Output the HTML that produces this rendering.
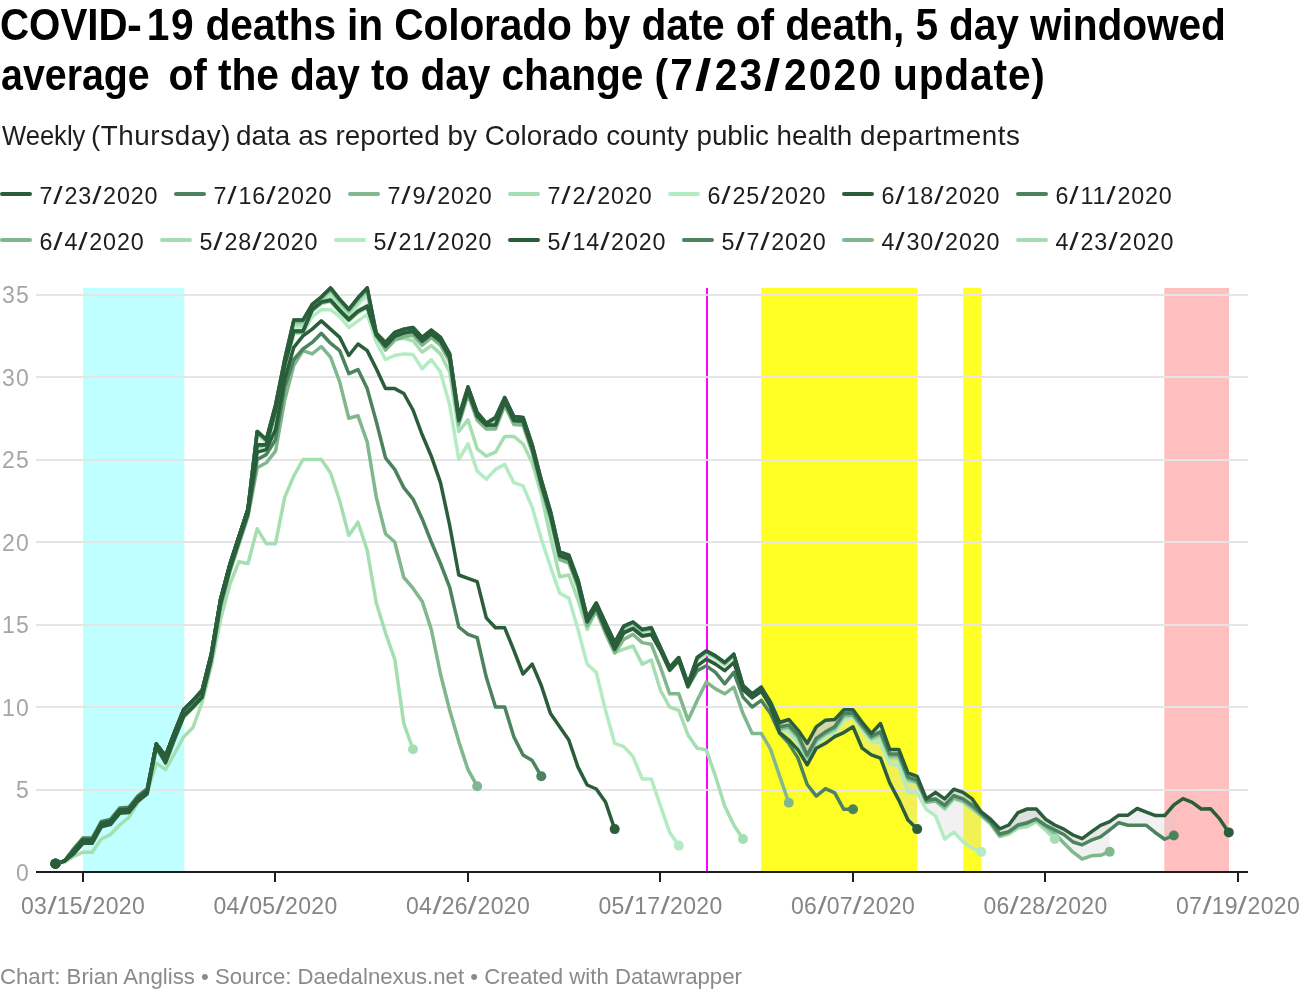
<!DOCTYPE html>
<html><head><meta charset="utf-8"><title>COVID-19 deaths in Colorado</title>
<style>
html,body{margin:0;padding:0;background:#fff;}
body{width:1300px;height:1000px;position:relative;overflow:hidden;font-family:"Liberation Sans",sans-serif;}
.t{position:absolute;white-space:nowrap;line-height:1;will-change:opacity;opacity:0.999;}
.title{font-weight:bold;font-size:40.7px;color:#000;transform-origin:0 0;transform:scaleY(1.09);}
.sl{display:inline-block;transform:scaleX(1.45);}
.title .sl{margin:0 3px;}
.sub{font-size:27.83px;color:#1d1d1d;left:1.2px;transform-origin:0 0;transform:scaleY(0.965);}
.leg{font-size:23.3px;color:#1d1d1d;letter-spacing:0.825px;}
.leg .sl{margin:0 1.9px;}
.sw{position:absolute;height:4px;width:32px;border-radius:2px;}
.yl{font-size:23px;color:#a6a6a6;text-align:right;width:40px;left:-10.2px;letter-spacing:1.1px;}
.xl{font-size:23px;color:#858585;text-align:center;width:160px;letter-spacing:0.333px;}
.xl .sl{margin:0 1.45px;}
.foot{font-size:22.2px;color:#8a8a8a;left:0px;}
</style></head><body>
<svg width="1300" height="1000" viewBox="0 0 1300 1000" style="position:absolute;left:0;top:0">
<rect x="706" y="288" width="2" height="584" fill="#ff00ff"/>
<rect x="83" y="288" width="101.3" height="584" fill="#bfffff"/>
<rect x="761.2" y="288" width="156" height="584" fill="#ffff26"/>
<rect x="963.2" y="288" width="18" height="584" fill="#ffff26"/>
<rect x="1164.3" y="288" width="64.7" height="584" fill="#ffbfbf"/>
<rect x="36" y="789" width="1212" height="2" fill="#e5e5e5"/>
<rect x="36" y="706" width="1212" height="2" fill="#e5e5e5"/>
<rect x="36" y="624" width="1212" height="2" fill="#e5e5e5"/>
<rect x="36" y="541" width="1212" height="2" fill="#e5e5e5"/>
<rect x="36" y="459" width="1212" height="2" fill="#e5e5e5"/>
<rect x="36" y="376" width="1212" height="2" fill="#e5e5e5"/>
<rect x="36" y="294" width="1212" height="2" fill="#e5e5e5"/>
<path d="M55.5,863.8L64.7,860.9L73.8,850.5L83.0,840.0L92.2,840.0L101.3,823.5L110.5,821.3L119.7,810.0L128.8,809.3L138.0,797.8L147.2,790.5L156.3,744.0L165.5,756.0L174.7,731.8L183.8,709.5L193.0,700.4L202.2,690.5L211.3,654.2L220.5,599.8L229.7,565.1L238.8,537.0L248.0,509.0L257.2,431.4L266.3,439.7L275.5,405.1L284.7,359.5L293.8,320.1L303.0,320.1L312.2,304.4L321.3,297.0L330.5,287.9L339.7,299.4L348.8,309.4L358.0,297.8L367.2,287.9L376.3,333.3L385.5,342.4L394.7,332.4L403.8,329.1L413.0,327.5L422.2,337.4L431.3,330.0L440.5,337.4L449.7,353.9L458.8,416.6L468.0,386.9L477.2,412.5L486.3,423.2L495.5,417.4L504.7,397.6L513.8,416.6L523.0,417.4L532.2,444.7L541.3,480.1L550.5,511.5L559.7,551.9L568.8,555.2L578.0,580.0L587.2,617.9L596.3,603.0L605.5,622.9L614.7,642.6L623.8,626.1L633.0,622.0L642.2,629.5L651.3,627.8L660.5,647.6L669.7,667.4L678.8,657.5L688.0,683.9L697.2,657.5L706.3,650.9L715.5,655.9L724.7,662.5L733.8,654.2L743.0,685.5L752.2,693.8L761.3,687.2L770.5,702.0L779.7,722.5L788.8,719.5L798.0,730.1L807.2,743.3L816.3,726.8L825.5,720.2L834.7,719.5L843.8,709.8L853.0,709.8L862.2,722.3L871.3,733.4L880.5,723.5L889.7,749.4L898.8,749.4L908.0,773.0L917.2,776.3L926.3,798.9L935.5,792.3L944.7,798.9L953.8,789.2L963.0,792.3L972.2,798.9L981.3,811.9L990.5,819.2L999.7,828.8L1008.8,825.0L1018.0,812.6L1027.2,809.0L1036.3,809.0L1045.5,819.2L1054.7,825.0L1063.8,829.1L1073.0,835.0L1082.2,838.7L1091.3,831.9L1100.5,825.3L1109.7,821.7L1118.8,815.2L1128.0,815.2L1137.2,808.5L1146.3,812.1L1155.5,815.6L1164.7,815.6L1173.8,805.0L1173.8,835.5L1164.7,839.2L1155.5,832.7L1146.3,825.3L1137.2,825.3L1128.0,825.3L1118.8,822.7L1109.7,829.9L1100.5,836.9L1091.3,840.2L1082.2,844.8L1073.0,842.0L1063.8,834.5L1054.7,829.9L1045.5,825.3L1036.3,818.9L1027.2,822.7L1018.0,825.0L1008.8,831.6L999.7,834.0L990.5,821.7L981.3,813.4L972.2,805.3L963.0,798.9L953.8,795.6L944.7,805.3L935.5,798.9L926.3,800.2L917.2,780.4L908.0,777.1L898.8,754.0L889.7,754.0L880.5,731.8L871.3,736.2L862.2,725.1L853.0,713.1L843.8,713.6L834.7,726.8L825.5,731.8L816.3,738.4L807.2,754.9L798.0,735.0L788.8,725.1L779.7,726.8L770.5,705.4L761.3,687.2L752.2,693.8L743.0,685.5L733.8,654.2L724.7,662.5L715.5,655.9L706.3,650.9L697.2,657.5L688.0,683.9L678.8,657.5L669.7,667.4L660.5,647.6L651.3,627.8L642.2,629.5L633.0,622.0L623.8,626.1L614.7,642.6L605.5,622.9L596.3,603.0L587.2,617.9L578.0,580.0L568.8,555.2L559.7,551.9L550.5,511.5L541.3,480.1L532.2,444.7L523.0,417.4L513.8,416.6L504.7,397.6L495.5,417.4L486.3,423.2L477.2,412.5L468.0,386.9L458.8,416.6L449.7,353.9L440.5,337.4L431.3,330.0L422.2,337.4L413.0,327.5L403.8,329.1L394.7,332.4L385.5,342.4L376.3,333.3L367.2,287.9L358.0,297.8L348.8,309.4L339.7,299.4L330.5,287.9L321.3,297.0L312.2,304.4L303.0,320.1L293.8,320.1L284.7,359.5L275.5,405.1L266.3,439.7L257.2,431.4L248.0,509.0L238.8,537.0L229.7,565.1L220.5,599.8L211.3,654.2L202.2,690.5L193.0,700.4L183.8,709.5L174.7,731.8L165.5,756.0L156.3,744.0L147.2,788.5L138.0,795.8L128.8,807.3L119.7,808.0L110.5,819.4L101.3,821.5L92.2,838.0L83.0,838.0L73.8,848.6L64.7,860.9L55.5,863.8Z" fill="#cccccc" fill-opacity="0.28" stroke="none"/>
<path d="M55.5,863.8L64.7,860.9L73.8,850.5L83.0,840.0L92.2,840.0L101.3,823.5L110.5,821.3L119.7,810.0L128.8,809.3L138.0,797.8L147.2,790.5L156.3,744.0L165.5,756.0L174.7,731.8L183.8,709.5L193.0,700.4L202.2,690.5L211.3,654.2L220.5,599.8L229.7,565.1L238.8,537.0L248.0,509.0L257.2,431.4L266.3,439.7L275.5,405.1L284.7,359.5L293.8,320.1L303.0,320.1L312.2,304.4L321.3,297.0L330.5,287.9L339.7,299.4L348.8,309.4L358.0,297.8L367.2,287.9L376.3,333.3L385.5,342.4L394.7,332.4L403.8,329.1L413.0,327.5L422.2,337.4L431.3,330.0L440.5,337.4L449.7,353.9L458.8,416.6L468.0,386.9L477.2,412.5L486.3,423.2L495.5,417.4L504.7,397.6L513.8,416.6L523.0,417.4L532.2,444.7L541.3,480.1L550.5,511.5L559.7,551.9L568.8,555.2L578.0,580.0L587.2,617.9L596.3,603.0L605.5,622.9L614.7,642.6L623.8,626.1L633.0,622.0L642.2,629.5L651.3,627.8L660.5,647.6L669.7,667.4L678.8,657.5L688.0,683.9L697.2,657.5L706.3,650.9L715.5,655.9L724.7,662.5L733.8,654.2L743.0,685.5L752.2,693.8L761.3,687.2L770.5,702.0L779.7,722.5L788.8,719.5L798.0,730.1L807.2,743.3L816.3,726.8L825.5,720.2L834.7,719.5L843.8,709.8L853.0,709.8L862.2,722.3L871.3,733.4L880.5,723.5L889.7,749.4L898.8,749.4L908.0,773.0L917.2,776.3L926.3,798.9L935.5,792.3L944.7,798.9L953.8,789.2L963.0,792.3L972.2,798.9L981.3,811.9L990.5,819.2L999.7,828.8L1008.8,825.0L1018.0,812.6L1027.2,809.0L1036.3,809.0L1045.5,819.2L1054.7,825.0L1063.8,829.1L1073.0,835.0L1082.2,838.7L1091.3,831.9L1100.5,825.3L1109.7,821.7L1109.7,851.7L1100.5,855.3L1091.3,855.8L1082.2,859.0L1073.0,852.2L1063.8,843.0L1054.7,833.7L1045.5,826.3L1036.3,819.5L1027.2,823.3L1018.0,825.8L1008.8,832.7L999.7,835.9L990.5,822.5L981.3,815.4L972.2,807.3L963.0,800.9L953.8,797.6L944.7,807.3L935.5,800.9L926.3,802.2L917.2,782.4L908.0,779.1L898.8,756.0L889.7,756.0L880.5,733.7L871.3,738.2L862.2,727.1L853.0,715.1L843.8,715.6L834.7,728.8L825.5,733.7L816.3,740.3L807.2,756.8L798.0,737.0L788.8,727.1L779.7,728.8L770.5,707.3L761.3,688.0L752.2,694.6L743.0,686.4L733.8,655.0L724.7,663.3L715.5,656.7L706.3,651.7L697.2,658.3L688.0,684.7L678.8,658.3L669.7,668.2L660.5,648.4L651.3,628.6L642.2,630.3L633.0,622.9L623.8,627.0L614.7,643.5L605.5,623.7L596.3,603.9L587.2,618.7L578.0,580.8L568.8,556.0L559.7,552.7L550.5,512.3L541.3,480.9L532.2,445.5L523.0,418.2L513.8,417.4L504.7,398.4L495.5,418.2L486.3,424.0L477.2,413.3L468.0,387.7L458.8,417.4L449.7,354.7L440.5,338.2L431.3,330.8L422.2,338.2L413.0,328.3L403.8,330.0L394.7,333.3L385.5,343.2L376.3,334.9L367.2,289.6L358.0,299.5L348.8,311.0L339.7,301.1L330.5,289.6L321.3,298.6L312.2,306.1L303.0,321.7L293.8,321.7L284.7,361.2L275.5,406.7L266.3,440.5L257.2,432.3L248.0,509.0L238.8,537.0L229.7,565.1L220.5,599.8L211.3,654.2L202.2,690.5L193.0,700.4L183.8,709.5L174.7,731.8L165.5,756.0L156.3,744.0L147.2,790.5L138.0,797.8L128.8,809.3L119.7,810.0L110.5,821.3L101.3,823.5L92.2,840.0L83.0,840.0L73.8,850.5L64.7,860.9L55.5,863.8Z" fill="#cccccc" fill-opacity="0.28" stroke="none"/>
<path d="M55.5,863.8L64.7,860.9L73.8,850.5L83.0,840.0L92.2,840.0L101.3,823.5L110.5,821.3L119.7,810.0L128.8,809.3L138.0,797.8L147.2,790.5L156.3,744.0L165.5,756.0L174.7,731.8L183.8,709.5L193.0,700.4L202.2,690.5L211.3,654.2L220.5,599.8L229.7,565.1L238.8,537.0L248.0,509.0L257.2,431.4L266.3,439.7L275.5,405.1L284.7,359.5L293.8,320.1L303.0,320.1L312.2,304.4L321.3,297.0L330.5,287.9L339.7,299.4L348.8,309.4L358.0,297.8L367.2,287.9L376.3,333.3L385.5,342.4L394.7,332.4L403.8,329.1L413.0,327.5L422.2,337.4L431.3,330.0L440.5,337.4L449.7,353.9L458.8,416.6L468.0,386.9L477.2,412.5L486.3,423.2L495.5,417.4L504.7,397.6L513.8,416.6L523.0,417.4L532.2,444.7L541.3,480.1L550.5,511.5L559.7,551.9L568.8,555.2L578.0,580.0L587.2,617.9L596.3,603.0L605.5,622.9L614.7,642.6L623.8,626.1L633.0,622.0L642.2,629.5L651.3,627.8L660.5,647.6L669.7,667.4L678.8,657.5L688.0,683.9L697.2,657.5L706.3,650.9L715.5,655.9L724.7,662.5L733.8,654.2L743.0,685.5L752.2,693.8L761.3,687.2L770.5,702.0L779.7,722.5L788.8,719.5L798.0,730.1L807.2,743.3L816.3,726.8L825.5,720.2L834.7,719.5L843.8,709.8L853.0,709.8L862.2,722.3L871.3,733.4L880.5,723.5L889.7,749.4L898.8,749.4L908.0,773.0L917.2,776.3L926.3,798.9L935.5,792.3L944.7,798.9L953.8,789.2L963.0,792.3L972.2,798.9L981.3,811.9L990.5,819.2L999.7,828.8L1008.8,825.0L1018.0,812.6L1027.2,809.0L1036.3,809.0L1045.5,819.2L1054.7,825.0L1054.7,839.0L1045.5,829.9L1036.3,821.7L1027.2,826.8L1018.0,828.1L1008.8,834.0L999.7,836.5L990.5,824.1L981.3,815.9L972.2,809.3L963.0,801.9L953.8,798.9L944.7,809.3L935.5,801.0L926.3,801.0L917.2,782.1L908.0,781.2L898.8,759.0L889.7,758.1L880.5,737.0L871.3,739.0L862.2,726.8L853.0,715.2L843.8,717.7L834.7,730.6L825.5,734.4L816.3,741.6L807.2,758.1L798.0,740.0L788.8,728.5L779.7,728.5L770.5,707.0L761.3,688.9L752.2,695.5L743.0,687.2L733.8,655.9L724.7,664.1L715.5,657.5L706.3,652.5L697.2,659.1L688.0,685.5L678.8,659.1L669.7,669.0L660.5,649.2L651.3,629.5L642.2,631.1L633.0,623.7L623.8,627.8L614.7,644.3L605.5,624.5L596.3,604.7L587.2,619.5L578.0,581.6L568.8,556.9L559.7,553.6L550.5,513.1L541.3,481.8L532.2,446.3L523.0,419.1L513.8,418.2L504.7,399.3L495.5,419.1L486.3,424.9L477.2,414.1L468.0,388.6L458.8,418.2L449.7,355.6L440.5,339.1L431.3,331.6L422.2,339.1L413.0,329.1L403.8,330.8L394.7,334.1L385.5,344.0L376.3,337.4L367.2,292.0L358.0,301.9L348.8,313.5L339.7,303.6L330.5,292.0L321.3,301.1L312.2,308.5L303.0,324.2L293.8,324.2L284.7,363.6L275.5,409.2L266.3,441.4L257.2,433.1L248.0,509.0L238.8,537.0L229.7,565.1L220.5,599.8L211.3,654.2L202.2,690.5L193.0,700.4L183.8,709.5L174.7,731.8L165.5,756.0L156.3,744.0L147.2,790.5L138.0,797.8L128.8,809.3L119.7,810.0L110.5,821.3L101.3,823.5L92.2,840.0L83.0,840.0L73.8,850.5L64.7,860.9L55.5,863.8Z" fill="#cccccc" fill-opacity="0.28" stroke="none"/>
<path d="M55.5,863.8L64.7,860.9L73.8,850.5L83.0,840.0L92.2,840.0L101.3,823.5L110.5,821.3L119.7,810.0L128.8,809.3L138.0,797.8L147.2,790.5L156.3,744.0L165.5,756.0L174.7,731.8L183.8,709.5L193.0,700.4L202.2,690.5L211.3,654.2L220.5,599.8L229.7,565.1L238.8,537.0L248.0,509.0L257.2,431.4L266.3,439.7L275.5,405.1L284.7,359.5L293.8,320.1L303.0,320.1L312.2,304.4L321.3,297.0L330.5,287.9L339.7,299.4L348.8,309.4L358.0,297.8L367.2,287.9L376.3,333.3L385.5,342.4L394.7,332.4L403.8,329.1L413.0,327.5L422.2,337.4L431.3,330.0L440.5,337.4L449.7,353.9L458.8,416.6L468.0,386.9L477.2,412.5L486.3,423.2L495.5,417.4L504.7,397.6L513.8,416.6L523.0,417.4L532.2,444.7L541.3,480.1L550.5,511.5L559.7,551.9L568.8,555.2L578.0,580.0L587.2,617.9L596.3,603.0L605.5,622.9L614.7,642.6L623.8,626.1L633.0,622.0L642.2,629.5L651.3,627.8L660.5,647.6L669.7,667.4L678.8,657.5L688.0,683.9L697.2,657.5L706.3,650.9L715.5,655.9L724.7,662.5L733.8,654.2L743.0,685.5L752.2,693.8L761.3,687.2L770.5,702.0L779.7,722.5L788.8,719.5L798.0,730.1L807.2,743.3L816.3,726.8L825.5,720.2L834.7,719.5L843.8,709.8L853.0,709.8L862.2,722.3L871.3,733.4L880.5,723.5L889.7,749.4L898.8,749.4L908.0,773.0L917.2,776.3L926.3,798.9L935.5,792.3L944.7,798.9L953.8,789.2L963.0,792.3L972.2,798.9L981.3,811.9L981.3,851.9L972.2,848.2L963.0,841.8L953.8,832.1L944.7,839.2L935.5,815.9L926.3,809.3L917.2,792.8L908.0,792.3L898.8,765.7L889.7,763.8L880.5,743.3L871.3,741.6L862.2,730.1L853.0,716.9L843.8,720.2L834.7,732.6L825.5,736.7L816.3,744.1L807.2,759.8L798.0,743.3L788.8,731.8L779.7,730.1L770.5,708.6L761.3,689.7L752.2,696.3L743.0,688.0L733.8,656.7L724.7,664.9L715.5,658.3L706.3,653.4L697.2,660.0L688.0,686.4L678.8,660.0L669.7,669.9L660.5,650.1L651.3,630.3L642.2,631.9L633.0,624.5L623.8,628.6L614.7,645.1L605.5,625.3L596.3,605.5L587.2,620.4L578.0,582.4L568.8,557.7L559.7,554.4L550.5,513.9L541.3,482.6L532.2,447.1L523.0,419.9L513.8,419.1L504.7,400.1L495.5,419.9L486.3,425.7L477.2,414.9L468.0,389.4L458.8,419.1L449.7,356.4L440.5,339.9L431.3,332.4L422.2,339.9L413.0,330.0L403.8,331.6L394.7,334.9L385.5,344.8L376.3,339.9L367.2,294.5L358.0,304.4L348.8,315.9L339.7,306.0L330.5,294.5L321.3,303.6L312.2,311.0L303.0,326.7L293.8,326.7L284.7,366.1L275.5,411.6L266.3,442.2L257.2,433.9L248.0,509.0L238.8,537.0L229.7,565.1L220.5,599.8L211.3,654.2L202.2,690.5L193.0,700.4L183.8,709.5L174.7,731.8L165.5,756.0L156.3,744.0L147.2,790.5L138.0,797.8L128.8,809.3L119.7,810.0L110.5,821.3L101.3,823.5L92.2,840.0L83.0,840.0L73.8,850.5L64.7,860.9L55.5,863.8Z" fill="#cccccc" fill-opacity="0.28" stroke="none"/>
<path d="M55.5,863.8L64.7,860.9L73.8,850.5L83.0,840.0L92.2,840.0L101.3,823.5L110.5,821.3L119.7,810.0L128.8,809.3L138.0,797.8L147.2,790.5L156.3,744.0L165.5,756.0L174.7,731.8L183.8,709.5L193.0,700.4L202.2,690.5L211.3,654.2L220.5,599.8L229.7,565.1L238.8,537.0L248.0,509.0L257.2,431.4L266.3,439.7L275.5,405.1L284.7,359.5L293.8,320.1L303.0,320.1L312.2,304.4L321.3,297.0L330.5,287.9L339.7,299.4L348.8,309.4L358.0,297.8L367.2,287.9L376.3,333.3L385.5,342.4L394.7,332.4L403.8,329.1L413.0,327.5L422.2,337.4L431.3,330.0L440.5,337.4L449.7,353.9L458.8,416.6L468.0,386.9L477.2,412.5L486.3,423.2L495.5,417.4L504.7,397.6L513.8,416.6L523.0,417.4L532.2,444.7L541.3,480.1L550.5,511.5L559.7,551.9L568.8,555.2L578.0,580.0L587.2,617.9L596.3,603.0L605.5,622.9L614.7,642.6L623.8,626.1L633.0,622.0L642.2,629.5L651.3,627.8L660.5,647.6L669.7,667.4L678.8,657.5L688.0,683.9L697.2,657.5L706.3,650.9L715.5,655.9L724.7,662.5L733.8,654.2L743.0,685.5L752.2,693.8L761.3,687.2L770.5,702.0L779.7,722.5L788.8,719.5L798.0,730.1L807.2,743.3L816.3,726.8L825.5,720.2L834.7,719.5L843.8,709.8L853.0,709.8L862.2,722.3L871.3,733.4L880.5,723.5L889.7,749.4L898.8,749.4L908.0,773.0L917.2,776.3L917.2,829.1L908.0,820.0L898.8,800.1L889.7,782.9L880.5,758.1L871.3,754.9L862.2,748.2L853.0,726.8L843.8,732.6L834.7,736.7L825.5,743.3L816.3,748.2L807.2,764.8L798.0,749.9L788.8,740.0L779.7,732.6L770.5,706.2L761.3,691.3L752.2,697.9L743.0,689.7L733.8,662.5L724.7,670.7L715.5,664.1L706.3,659.1L697.2,665.8L688.0,686.4L678.8,660.0L669.7,669.9L660.5,650.1L651.3,634.1L642.2,635.7L633.0,628.3L623.8,632.4L614.7,648.9L605.5,629.1L596.3,606.7L587.2,621.5L578.0,583.6L568.8,558.8L559.7,555.5L550.5,515.1L541.3,483.8L532.2,448.3L523.0,421.1L513.8,420.2L504.7,401.3L495.5,424.8L486.3,424.9L477.2,416.1L468.0,390.5L458.8,420.2L449.7,357.5L440.5,341.0L431.3,333.6L422.2,341.0L413.0,331.1L403.8,332.8L394.7,336.1L385.5,346.0L376.3,334.9L367.2,306.1L358.0,311.0L348.8,319.2L339.7,310.2L330.5,299.9L321.3,301.9L312.2,309.4L303.0,331.1L293.8,331.1L284.7,364.5L275.5,410.0L266.3,444.7L257.2,444.7L248.0,509.0L238.8,537.0L229.7,565.1L220.5,599.8L211.3,654.2L202.2,690.5L193.0,700.4L183.8,709.5L174.7,731.8L165.5,756.0L156.3,744.0L147.2,790.5L138.0,797.8L128.8,809.3L119.7,810.0L110.5,821.3L101.3,823.5L92.2,840.0L83.0,840.0L73.8,850.5L64.7,860.9L55.5,863.8Z" fill="#cccccc" fill-opacity="0.28" stroke="none"/>
<path d="M55.5,863.8L64.7,860.9L73.8,850.5L83.0,840.0L92.2,840.0L101.3,823.5L110.5,821.3L119.7,810.0L128.8,809.3L138.0,797.8L147.2,790.5L156.3,744.0L165.5,756.0L174.7,731.8L183.8,709.5L193.0,700.4L202.2,690.5L211.3,654.2L220.5,599.8L229.7,565.1L238.8,537.0L248.0,509.0L257.2,444.7L266.3,452.9L275.5,418.2L284.7,372.7L293.8,333.3L303.0,333.3L312.2,316.6L321.3,309.7L330.5,309.7L339.7,316.6L348.8,327.5L358.0,320.9L367.2,314.3L376.3,342.4L385.5,359.5L394.7,355.5L403.8,353.9L413.0,354.6L422.2,368.8L431.3,359.5L440.5,372.1L449.7,405.1L458.8,459.5L468.0,443.8L477.2,471.1L486.3,479.3L495.5,469.4L504.7,464.4L513.8,482.6L523.0,485.9L532.2,507.3L541.3,538.7L550.5,566.8L559.7,593.2L568.8,598.1L578.0,629.5L587.2,664.1L596.3,672.4L605.5,710.3L614.7,743.3L623.8,746.6L633.0,756.5L642.2,778.9L651.3,778.9L660.5,806.0L669.7,832.4L678.8,845.6" fill="none" stroke="#b3ecc2" stroke-width="3.5" stroke-linejoin="round" stroke-linecap="round"/>
<path d="M55.5,863.8L64.7,860.9L73.8,850.5L83.0,840.0L92.2,840.0L101.3,823.5L110.5,821.3L119.7,810.0L128.8,809.3L138.0,797.8L147.2,790.5L156.3,744.0L165.5,756.0L174.7,731.8L183.8,709.5L193.0,700.4L202.2,690.5L211.3,654.2L220.5,599.8L229.7,565.1L238.8,537.0L248.0,509.0L257.2,433.9L266.3,442.2L275.5,411.6L284.7,366.1L293.8,326.7L303.0,326.7L312.2,311.0L321.3,303.6L330.5,294.5L339.7,306.0L348.8,315.9L358.0,304.4L367.2,294.5L376.3,339.9L385.5,344.8L394.7,334.9L403.8,331.6L413.0,330.0L422.2,339.9L431.3,332.4L440.5,339.9L449.7,356.4L458.8,419.1L468.0,389.4L477.2,414.9L486.3,425.7L495.5,419.9L504.7,400.1L513.8,419.1L523.0,419.9L532.2,447.1L541.3,482.6L550.5,513.9L559.7,554.4L568.8,557.7L578.0,582.4L587.2,620.4L596.3,605.5L605.5,625.3L614.7,645.1L623.8,628.6L633.0,624.5L642.2,631.9L651.3,630.3L660.5,650.1L669.7,669.9L678.8,660.0L688.0,686.4L697.2,660.0L706.3,653.4L715.5,658.3L724.7,664.9L733.8,656.7L743.0,688.0L752.2,696.3L761.3,689.7L770.5,708.6L779.7,730.1L788.8,731.8L798.0,743.3L807.2,759.8L816.3,744.1L825.5,736.7L834.7,732.6L843.8,720.2L853.0,716.9L862.2,730.1L871.3,741.6L880.5,743.3L889.7,763.8L898.8,765.7L908.0,792.3L917.2,792.8L926.3,809.3L935.5,815.9L944.7,839.2L953.8,832.1L963.0,841.8L972.2,848.2L981.3,851.9" fill="none" stroke="#b3ecc2" stroke-width="3.5" stroke-linejoin="round" stroke-linecap="round"/>
<path d="M55.5,863.8L64.7,862.1L73.8,856.5L83.0,852.2L92.2,852.2L101.3,839.0L110.5,834.5L119.7,825.0L128.8,817.5L138.0,802.7L147.2,792.0L156.3,763.1L165.5,769.7L174.7,753.2L183.8,736.7L193.0,727.5L202.2,702.0L211.3,665.8L220.5,619.5L229.7,584.9L238.8,561.8L248.0,563.5L257.2,528.8L266.3,543.7L275.5,543.7L284.7,497.4L293.8,476.0L303.0,459.5L312.2,459.5L321.3,459.5L330.5,472.7L339.7,500.8L348.8,535.4L358.0,522.2L367.2,550.2L376.3,603.0L385.5,632.8L394.7,659.1L403.8,723.5L413.0,749.2" fill="none" stroke="#a5dfb1" stroke-width="3.5" stroke-linejoin="round" stroke-linecap="round"/>
<path d="M55.5,863.8L64.7,860.9L73.8,850.5L83.0,840.0L92.2,840.0L101.3,823.5L110.5,821.3L119.7,810.0L128.8,809.3L138.0,797.8L147.2,790.5L156.3,744.0L165.5,756.0L174.7,731.8L183.8,709.5L193.0,700.4L202.2,690.5L211.3,654.2L220.5,599.8L229.7,565.1L238.8,537.0L248.0,509.0L257.2,431.4L266.3,439.7L275.5,411.6L284.7,366.1L293.8,332.8L303.0,332.8L312.2,311.0L321.3,303.6L330.5,301.6L339.7,311.8L348.8,320.9L358.0,312.6L367.2,307.7L376.3,336.6L385.5,349.0L394.7,339.1L403.8,338.2L413.0,340.7L422.2,352.2L431.3,345.6L440.5,353.9L449.7,372.1L458.8,431.4L468.0,419.9L477.2,448.8L486.3,456.2L495.5,452.1L504.7,436.4L513.8,436.4L523.0,443.8L532.2,462.8L541.3,494.2L550.5,537.0L559.7,576.7L568.8,575.0L578.0,599.8L587.2,629.5L596.3,609.6L605.5,632.8L614.7,652.5L623.8,649.2L633.0,646.0L642.2,664.1L651.3,660.0L660.5,690.5L669.7,707.0L678.8,710.3L688.0,735.0L697.2,748.2L706.3,749.9L715.5,776.3L724.7,806.0L733.8,825.0L743.0,839.0" fill="none" stroke="#a5dfb1" stroke-width="3.5" stroke-linejoin="round" stroke-linecap="round"/>
<path d="M55.5,863.8L64.7,860.9L73.8,850.5L83.0,840.0L92.2,840.0L101.3,823.5L110.5,821.3L119.7,810.0L128.8,809.3L138.0,797.8L147.2,790.5L156.3,744.0L165.5,756.0L174.7,731.8L183.8,709.5L193.0,700.4L202.2,690.5L211.3,654.2L220.5,599.8L229.7,565.1L238.8,537.0L248.0,509.0L257.2,433.1L266.3,441.4L275.5,409.2L284.7,363.6L293.8,324.2L303.0,324.2L312.2,308.5L321.3,301.1L330.5,292.0L339.7,303.6L348.8,313.5L358.0,301.9L367.2,292.0L376.3,337.4L385.5,344.0L394.7,334.1L403.8,330.8L413.0,329.1L422.2,339.1L431.3,331.6L440.5,339.1L449.7,355.6L458.8,418.2L468.0,388.6L477.2,414.1L486.3,424.9L495.5,419.1L504.7,399.3L513.8,418.2L523.0,419.1L532.2,446.3L541.3,481.8L550.5,513.1L559.7,553.6L568.8,556.9L578.0,581.6L587.2,619.5L596.3,604.7L605.5,624.5L614.7,644.3L623.8,627.8L633.0,623.7L642.2,631.1L651.3,629.5L660.5,649.2L669.7,669.0L678.8,659.1L688.0,685.5L697.2,659.1L706.3,652.5L715.5,657.5L724.7,664.1L733.8,655.9L743.0,687.2L752.2,695.5L761.3,688.9L770.5,707.0L779.7,728.5L788.8,728.5L798.0,740.0L807.2,758.1L816.3,741.6L825.5,734.4L834.7,730.6L843.8,717.7L853.0,715.2L862.2,726.8L871.3,739.0L880.5,737.0L889.7,758.1L898.8,759.0L908.0,781.2L917.2,782.1L926.3,801.0L935.5,801.0L944.7,809.3L953.8,798.9L963.0,801.9L972.2,809.3L981.3,815.9L990.5,824.1L999.7,836.5L1008.8,834.0L1018.0,828.1L1027.2,826.8L1036.3,821.7L1045.5,829.9L1054.7,839.0" fill="none" stroke="#a5dfb1" stroke-width="3.5" stroke-linejoin="round" stroke-linecap="round"/>
<path d="M55.5,863.8L64.7,860.9L73.8,850.5L83.0,840.0L92.2,840.0L101.3,823.5L110.5,821.3L119.7,810.0L128.8,809.3L138.0,797.8L147.2,790.5L156.3,744.0L165.5,763.4L174.7,739.2L183.8,716.9L193.0,707.8L202.2,697.9L211.3,661.6L220.5,607.2L229.7,572.5L238.8,544.5L248.0,516.4L257.2,467.8L266.3,462.8L275.5,451.2L284.7,400.1L293.8,365.4L303.0,350.6L312.2,353.9L321.3,346.5L330.5,357.2L339.7,381.9L348.8,418.2L358.0,415.8L367.2,442.0L376.3,497.4L385.5,533.8L394.7,542.0L403.8,577.5L413.0,588.2L422.2,601.4L431.3,629.5L440.5,674.0L449.7,710.3L458.8,741.6L468.0,769.7L477.2,786.2" fill="none" stroke="#80b78d" stroke-width="3.5" stroke-linejoin="round" stroke-linecap="round"/>
<path d="M55.5,863.8L64.7,860.9L73.8,850.5L83.0,840.0L92.2,840.0L101.3,823.5L110.5,821.3L119.7,810.0L128.8,809.3L138.0,797.8L147.2,790.5L156.3,744.0L165.5,756.0L174.7,731.8L183.8,709.5L193.0,700.4L202.2,690.5L211.3,654.2L220.5,599.8L229.7,565.1L238.8,537.0L248.0,509.0L257.2,431.4L266.3,439.7L275.5,410.0L284.7,364.5L293.8,331.1L303.0,331.1L312.2,309.4L321.3,301.9L330.5,299.9L339.7,310.2L348.8,319.2L358.0,311.0L367.2,306.1L376.3,334.9L385.5,350.1L394.7,340.2L403.8,336.9L413.0,335.3L422.2,345.2L431.3,337.7L440.5,345.2L449.7,361.7L458.8,424.4L468.0,394.7L477.2,420.2L486.3,429.0L495.5,429.0L504.7,405.4L513.8,424.4L523.0,425.2L532.2,452.4L541.3,487.9L550.5,519.2L559.7,559.7L568.8,563.0L578.0,587.7L587.2,625.7L596.3,610.8L605.5,633.2L614.7,653.0L623.8,639.4L633.0,634.4L642.2,642.6L651.3,644.3L660.5,667.4L669.7,693.8L678.8,693.8L688.0,720.2L697.2,700.4L706.3,682.2L715.5,688.9L724.7,693.8L733.8,687.2L743.0,713.6L752.2,733.4L761.3,733.4L770.5,749.1L779.7,776.3L788.8,802.7" fill="none" stroke="#80b78d" stroke-width="3.5" stroke-linejoin="round" stroke-linecap="round"/>
<path d="M55.5,863.8L64.7,860.9L73.8,850.5L83.0,840.0L92.2,840.0L101.3,823.5L110.5,821.3L119.7,810.0L128.8,809.3L138.0,797.8L147.2,790.5L156.3,744.0L165.5,756.0L174.7,731.8L183.8,709.5L193.0,700.4L202.2,690.5L211.3,654.2L220.5,599.8L229.7,565.1L238.8,537.0L248.0,509.0L257.2,432.3L266.3,440.5L275.5,406.7L284.7,361.2L293.8,321.7L303.0,321.7L312.2,306.1L321.3,298.6L330.5,289.6L339.7,301.1L348.8,311.0L358.0,299.5L367.2,289.6L376.3,334.9L385.5,343.2L394.7,333.3L403.8,330.0L413.0,328.3L422.2,338.2L431.3,330.8L440.5,338.2L449.7,354.7L458.8,417.4L468.0,387.7L477.2,413.3L486.3,424.0L495.5,418.2L504.7,398.4L513.8,417.4L523.0,418.2L532.2,445.5L541.3,480.9L550.5,512.3L559.7,552.7L568.8,556.0L578.0,580.8L587.2,618.7L596.3,603.9L605.5,623.7L614.7,643.5L623.8,627.0L633.0,622.9L642.2,630.3L651.3,628.6L660.5,648.4L669.7,668.2L678.8,658.3L688.0,684.7L697.2,658.3L706.3,651.7L715.5,656.7L724.7,663.3L733.8,655.0L743.0,686.4L752.2,694.6L761.3,688.0L770.5,707.3L779.7,728.8L788.8,727.1L798.0,737.0L807.2,756.8L816.3,740.3L825.5,733.7L834.7,728.8L843.8,715.6L853.0,715.1L862.2,727.1L871.3,738.2L880.5,733.7L889.7,756.0L898.8,756.0L908.0,779.1L917.2,782.4L926.3,802.2L935.5,800.9L944.7,807.3L953.8,797.6L963.0,800.9L972.2,807.3L981.3,815.4L990.5,822.5L999.7,835.9L1008.8,832.7L1018.0,825.8L1027.2,823.3L1036.3,819.5L1045.5,826.3L1054.7,833.7L1063.8,843.0L1073.0,852.2L1082.2,859.0L1091.3,855.8L1100.5,855.3L1109.7,851.7" fill="none" stroke="#80b78d" stroke-width="3.5" stroke-linejoin="round" stroke-linecap="round"/>
<path d="M55.5,863.8L64.7,860.9L73.8,850.5L83.0,840.0L92.2,840.0L101.3,823.5L110.5,821.3L119.7,810.0L128.8,809.3L138.0,797.8L147.2,790.5L156.3,744.0L165.5,761.0L174.7,736.7L183.8,714.4L193.0,705.4L202.2,695.5L211.3,659.2L220.5,604.7L229.7,570.0L238.8,542.0L248.0,514.0L257.2,459.5L266.3,454.6L275.5,439.7L284.7,386.9L293.8,359.5L303.0,349.0L312.2,342.4L321.3,333.3L330.5,343.2L339.7,350.6L348.8,373.7L358.0,369.6L367.2,388.6L376.3,421.6L385.5,457.8L394.7,469.4L403.8,487.6L413.0,499.1L422.2,518.9L431.3,542.0L440.5,563.5L449.7,587.4L458.8,627.0L468.0,634.4L477.2,637.7L486.3,677.3L495.5,707.0L504.7,707.0L513.8,736.7L523.0,754.9L532.2,760.5L541.3,776.3" fill="none" stroke="#4c835e" stroke-width="3.5" stroke-linejoin="round" stroke-linecap="round"/>
<path d="M55.5,863.8L64.7,860.9L73.8,850.5L83.0,840.0L92.2,840.0L101.3,823.5L110.5,821.3L119.7,810.0L128.8,809.3L138.0,797.8L147.2,790.5L156.3,744.0L165.5,756.0L174.7,731.8L183.8,709.5L193.0,700.4L202.2,690.5L211.3,654.2L220.5,599.8L229.7,565.1L238.8,537.0L248.0,509.0L257.2,445.5L266.3,445.5L275.5,410.7L284.7,365.1L293.8,331.8L303.0,331.8L312.2,310.0L321.3,302.6L330.5,300.6L339.7,310.8L348.8,319.9L358.0,311.7L367.2,306.7L376.3,335.6L385.5,346.6L394.7,336.7L403.8,333.4L413.0,331.8L422.2,341.7L431.3,334.3L440.5,341.7L449.7,358.2L458.8,420.9L468.0,391.2L477.2,416.8L486.3,425.5L495.5,425.5L504.7,401.9L513.8,420.9L523.0,421.7L532.2,448.9L541.3,484.4L550.5,515.8L559.7,556.2L568.8,559.5L578.0,584.2L587.2,622.2L596.3,607.3L605.5,629.8L614.7,649.6L623.8,633.1L633.0,629.0L642.2,636.4L651.3,634.7L660.5,650.7L669.7,670.5L678.8,660.6L688.0,687.0L697.2,670.7L706.3,665.8L715.5,672.4L724.7,683.9L733.8,672.4L743.0,697.1L752.2,707.0L761.3,700.4L770.5,713.6L779.7,733.4L788.8,743.3L798.0,758.1L807.2,784.5L816.3,796.1L825.5,788.7L834.7,792.8L843.8,809.3L853.0,809.3" fill="none" stroke="#4c835e" stroke-width="3.5" stroke-linejoin="round" stroke-linecap="round"/>
<path d="M55.5,863.8L64.7,860.9L73.8,848.6L83.0,838.0L92.2,838.0L101.3,821.5L110.5,819.4L119.7,808.0L128.8,807.3L138.0,795.8L147.2,788.5L156.3,744.0L165.5,756.0L174.7,731.8L183.8,709.5L193.0,700.4L202.2,690.5L211.3,654.2L220.5,599.8L229.7,565.1L238.8,537.0L248.0,509.0L257.2,431.4L266.3,439.7L275.5,405.1L284.7,359.5L293.8,320.1L303.0,320.1L312.2,304.4L321.3,297.0L330.5,287.9L339.7,299.4L348.8,309.4L358.0,297.8L367.2,287.9L376.3,333.3L385.5,342.4L394.7,332.4L403.8,329.1L413.0,327.5L422.2,337.4L431.3,330.0L440.5,337.4L449.7,353.9L458.8,416.6L468.0,386.9L477.2,412.5L486.3,423.2L495.5,417.4L504.7,397.6L513.8,416.6L523.0,417.4L532.2,444.7L541.3,480.1L550.5,511.5L559.7,551.9L568.8,555.2L578.0,580.0L587.2,617.9L596.3,603.0L605.5,622.9L614.7,642.6L623.8,626.1L633.0,622.0L642.2,629.5L651.3,627.8L660.5,647.6L669.7,667.4L678.8,657.5L688.0,683.9L697.2,657.5L706.3,650.9L715.5,655.9L724.7,662.5L733.8,654.2L743.0,685.5L752.2,693.8L761.3,687.2L770.5,705.4L779.7,726.8L788.8,725.1L798.0,735.0L807.2,754.9L816.3,738.4L825.5,731.8L834.7,726.8L843.8,713.6L853.0,713.1L862.2,725.1L871.3,736.2L880.5,731.8L889.7,754.0L898.8,754.0L908.0,777.1L917.2,780.4L926.3,800.2L935.5,798.9L944.7,805.3L953.8,795.6L963.0,798.9L972.2,805.3L981.3,813.4L990.5,821.7L999.7,834.0L1008.8,831.6L1018.0,825.0L1027.2,822.7L1036.3,818.9L1045.5,825.3L1054.7,829.9L1063.8,834.5L1073.0,842.0L1082.2,844.8L1091.3,840.2L1100.5,836.9L1109.7,829.9L1118.8,822.7L1128.0,825.3L1137.2,825.3L1146.3,825.3L1155.5,832.7L1164.7,839.2L1173.8,835.5" fill="none" stroke="#4c835e" stroke-width="3.5" stroke-linejoin="round" stroke-linecap="round"/>
<path d="M55.5,863.8L64.7,860.9L73.8,853.9L83.0,843.3L92.2,843.3L101.3,826.8L110.5,824.6L119.7,813.3L128.8,812.6L138.0,801.0L147.2,793.8L156.3,747.3L165.5,762.6L174.7,738.4L183.8,716.1L193.0,707.0L202.2,697.1L211.3,658.3L220.5,603.9L229.7,569.2L238.8,541.2L248.0,513.1L257.2,452.1L266.3,449.6L275.5,429.8L284.7,379.5L293.8,347.3L303.0,335.8L312.2,329.1L321.3,320.9L330.5,329.1L339.7,337.4L348.8,355.5L358.0,344.0L367.2,350.6L376.3,368.8L385.5,388.6L394.7,388.6L403.8,393.5L413.0,410.0L422.2,434.8L431.3,456.2L440.5,482.6L449.7,525.5L458.8,575.0L468.0,578.3L477.2,581.6L486.3,617.9L495.5,627.8L504.7,627.8L513.8,650.1L523.0,674.0L532.2,664.1L541.3,685.5L550.5,713.6L559.7,726.8L568.8,740.0L578.0,767.1L587.2,785.0L596.3,789.0L605.5,802.0L614.7,829.1" fill="none" stroke="#2a5e3b" stroke-width="3.5" stroke-linejoin="round" stroke-linecap="round"/>
<path d="M55.5,863.8L64.7,860.9L73.8,850.5L83.0,840.0L92.2,840.0L101.3,823.5L110.5,821.3L119.7,810.0L128.8,809.3L138.0,797.8L147.2,790.5L156.3,744.0L165.5,756.0L174.7,731.8L183.8,709.5L193.0,700.4L202.2,690.5L211.3,654.2L220.5,599.8L229.7,565.1L238.8,537.0L248.0,509.0L257.2,444.7L266.3,444.7L275.5,410.0L284.7,364.5L293.8,331.1L303.0,331.1L312.2,309.4L321.3,301.9L330.5,299.9L339.7,310.2L348.8,319.2L358.0,311.0L367.2,306.1L376.3,334.9L385.5,346.0L394.7,336.1L403.8,332.8L413.0,331.1L422.2,341.0L431.3,333.6L440.5,341.0L449.7,357.5L458.8,420.2L468.0,390.5L477.2,416.1L486.3,424.9L495.5,424.8L504.7,401.3L513.8,420.2L523.0,421.1L532.2,448.3L541.3,483.8L550.5,515.1L559.7,555.5L568.8,558.8L578.0,583.6L587.2,621.5L596.3,606.7L605.5,629.1L614.7,648.9L623.8,632.4L633.0,628.3L642.2,635.7L651.3,634.1L660.5,650.1L669.7,669.9L678.8,660.0L688.0,686.4L697.2,665.8L706.3,659.1L715.5,664.1L724.7,670.7L733.8,662.5L743.0,689.7L752.2,697.9L761.3,691.3L770.5,706.2L779.7,732.6L788.8,740.0L798.0,749.9L807.2,764.8L816.3,748.2L825.5,743.3L834.7,736.7L843.8,732.6L853.0,726.8L862.2,748.2L871.3,754.9L880.5,758.1L889.7,782.9L898.8,800.1L908.0,820.0L917.2,829.1" fill="none" stroke="#2a5e3b" stroke-width="3.5" stroke-linejoin="round" stroke-linecap="round"/>
<path d="M55.5,863.8L64.7,860.9L73.8,850.5L83.0,840.0L92.2,840.0L101.3,823.5L110.5,821.3L119.7,810.0L128.8,809.3L138.0,797.8L147.2,790.5L156.3,744.0L165.5,756.0L174.7,731.8L183.8,709.5L193.0,700.4L202.2,690.5L211.3,654.2L220.5,599.8L229.7,565.1L238.8,537.0L248.0,509.0L257.2,431.4L266.3,439.7L275.5,405.1L284.7,359.5L293.8,320.1L303.0,320.1L312.2,304.4L321.3,297.0L330.5,287.9L339.7,299.4L348.8,309.4L358.0,297.8L367.2,287.9L376.3,333.3L385.5,342.4L394.7,332.4L403.8,329.1L413.0,327.5L422.2,337.4L431.3,330.0L440.5,337.4L449.7,353.9L458.8,416.6L468.0,386.9L477.2,412.5L486.3,423.2L495.5,417.4L504.7,397.6L513.8,416.6L523.0,417.4L532.2,444.7L541.3,480.1L550.5,511.5L559.7,551.9L568.8,555.2L578.0,580.0L587.2,617.9L596.3,603.0L605.5,622.9L614.7,642.6L623.8,626.1L633.0,622.0L642.2,629.5L651.3,627.8L660.5,647.6L669.7,667.4L678.8,657.5L688.0,683.9L697.2,657.5L706.3,650.9L715.5,655.9L724.7,662.5L733.8,654.2L743.0,685.5L752.2,693.8L761.3,687.2L770.5,702.0L779.7,722.5L788.8,719.5L798.0,730.1L807.2,743.3L816.3,726.8L825.5,720.2L834.7,719.5L843.8,709.8L853.0,709.8L862.2,722.3L871.3,733.4L880.5,723.5L889.7,749.4L898.8,749.4L908.0,773.0L917.2,776.3L926.3,798.9L935.5,792.3L944.7,798.9L953.8,789.2L963.0,792.3L972.2,798.9L981.3,811.9L990.5,819.2L999.7,828.8L1008.8,825.0L1018.0,812.6L1027.2,809.0L1036.3,809.0L1045.5,819.2L1054.7,825.0L1063.8,829.1L1073.0,835.0L1082.2,838.7L1091.3,831.9L1100.5,825.3L1109.7,821.7L1118.8,815.2L1128.0,815.2L1137.2,808.5L1146.3,812.1L1155.5,815.6L1164.7,815.6L1173.8,805.0L1183.0,798.6L1192.2,802.4L1201.3,809.0L1210.5,808.8L1219.7,818.9L1228.8,832.4" fill="none" stroke="#2a5e3b" stroke-width="3.5" stroke-linejoin="round" stroke-linecap="round"/>
<circle cx="678.8" cy="845.6" r="5" fill="#b3ecc2"/>
<circle cx="55.5" cy="863.8" r="5" fill="#b3ecc2"/>
<circle cx="981.3" cy="851.9" r="5" fill="#b3ecc2"/>
<circle cx="55.5" cy="863.8" r="5" fill="#b3ecc2"/>
<circle cx="413.0" cy="749.2" r="5" fill="#a5dfb1"/>
<circle cx="55.5" cy="863.8" r="5" fill="#a5dfb1"/>
<circle cx="743.0" cy="839.0" r="5" fill="#a5dfb1"/>
<circle cx="55.5" cy="863.8" r="5" fill="#a5dfb1"/>
<circle cx="1054.7" cy="839.0" r="5" fill="#a5dfb1"/>
<circle cx="55.5" cy="863.8" r="5" fill="#a5dfb1"/>
<circle cx="477.2" cy="786.2" r="5" fill="#80b78d"/>
<circle cx="55.5" cy="863.8" r="5" fill="#80b78d"/>
<circle cx="788.8" cy="802.7" r="5" fill="#80b78d"/>
<circle cx="55.5" cy="863.8" r="5" fill="#80b78d"/>
<circle cx="1109.7" cy="851.7" r="5" fill="#80b78d"/>
<circle cx="55.5" cy="863.8" r="5" fill="#80b78d"/>
<circle cx="541.3" cy="776.3" r="5" fill="#4c835e"/>
<circle cx="55.5" cy="863.8" r="5" fill="#4c835e"/>
<circle cx="853.0" cy="809.3" r="5" fill="#4c835e"/>
<circle cx="55.5" cy="863.8" r="5" fill="#4c835e"/>
<circle cx="1173.8" cy="835.5" r="5" fill="#4c835e"/>
<circle cx="55.5" cy="863.8" r="5" fill="#4c835e"/>
<circle cx="614.7" cy="829.1" r="5" fill="#2a5e3b"/>
<circle cx="55.5" cy="863.8" r="5" fill="#2a5e3b"/>
<circle cx="917.2" cy="829.1" r="5" fill="#2a5e3b"/>
<circle cx="55.5" cy="863.8" r="5" fill="#2a5e3b"/>
<circle cx="1228.8" cy="832.4" r="5" fill="#2a5e3b"/>
<circle cx="55.5" cy="863.8" r="5" fill="#2a5e3b"/>
<rect x="36" y="871" width="1212" height="2" fill="#1d1d1d"/>
<rect x="82.0" y="871" width="2" height="11" fill="#1d1d1d"/>
<rect x="274.0" y="871" width="2" height="11" fill="#1d1d1d"/>
<rect x="467.0" y="871" width="2" height="11" fill="#1d1d1d"/>
<rect x="659.0" y="871" width="2" height="11" fill="#1d1d1d"/>
<rect x="852.0" y="871" width="2" height="11" fill="#1d1d1d"/>
<rect x="1044.0" y="871" width="2" height="11" fill="#1d1d1d"/>
<rect x="1237.0" y="871" width="2" height="11" fill="#1d1d1d"/>
</svg>
<div class="t title" style="top:2.90px;left:0.00px;letter-spacing:0.000px;transform:scale(0.9900,1.09)">COVID</div>
<div class="t title" style="top:2.90px;left:127.20px;letter-spacing:0.000px;transform:scale(1.1000,1.09)">-</div>
<div class="t title" style="top:2.90px;left:146.80px;letter-spacing:1.600px;transform:scale(1.0000,1.09)">19</div>
<div class="t title" style="top:2.90px;left:205.50px;letter-spacing:-0.120px;transform:scale(1.0000,1.09)">deaths in Colorado by date of death, 5 day windowed</div>
<div class="t title" style="top:53.00px;left:1.00px;letter-spacing:0.000px;transform:scale(0.9670,1.09)">average</div>
<div class="t title" style="top:53.00px;left:168.60px;letter-spacing:-0.096px;transform:scale(1.0000,1.09)">of the day to day change</div>
<div class="t title" style="top:53.00px;left:654.50px;letter-spacing:2.222px;transform:scale(1.0000,1.09)">(7<span class="sl">/</span>23<span class="sl">/</span>2020</div>
<div class="t title" style="top:53.00px;left:893.00px;letter-spacing:0.833px;transform:scale(1.0000,1.09)">update)</div>
<div class="t sub" style="top:122.9px;left:2.20px;letter-spacing:0.000px;transform:scale(0.9187,0.965)">Weekly</div>
<div class="t sub" style="top:122.9px;left:90.90px;letter-spacing:0.556px;transform:scale(1.0000,0.965)">(Thursday)</div>
<div class="t sub" style="top:122.9px;left:235.90px;letter-spacing:0.071px;transform:scale(1.0000,0.965)">data as reported by Colorado county</div>
<div class="t sub" style="top:122.9px;left:696.50px;letter-spacing:-0.050px;transform:scale(1.0000,0.965)">public health</div>
<div class="t sub" style="top:122.9px;left:860.10px;letter-spacing:0.520px;transform:scale(1.0000,0.965)">departments</div>
<div class="sw" style="left:0px;top:191.8px;background:#2a5e3b"></div>
<div class="t leg" style="left:39.55px;top:184.90px">7<span class="sl">/</span>23<span class="sl">/</span>2020</div>
<div class="sw" style="left:174px;top:191.8px;background:#4c835e"></div>
<div class="t leg" style="left:213.55px;top:184.90px">7<span class="sl">/</span>16<span class="sl">/</span>2020</div>
<div class="sw" style="left:348px;top:191.8px;background:#80b78d"></div>
<div class="t leg" style="left:387.55px;top:184.90px">7<span class="sl">/</span>9<span class="sl">/</span>2020</div>
<div class="sw" style="left:508px;top:191.8px;background:#a5dfb1"></div>
<div class="t leg" style="left:547.55px;top:184.90px">7<span class="sl">/</span>2<span class="sl">/</span>2020</div>
<div class="sw" style="left:668px;top:191.8px;background:#b3ecc2"></div>
<div class="t leg" style="left:707.55px;top:184.90px">6<span class="sl">/</span>25<span class="sl">/</span>2020</div>
<div class="sw" style="left:842px;top:191.8px;background:#2a5e3b"></div>
<div class="t leg" style="left:881.55px;top:184.90px">6<span class="sl">/</span>18<span class="sl">/</span>2020</div>
<div class="sw" style="left:1016px;top:191.8px;background:#4c835e"></div>
<div class="t leg" style="left:1055.55px;top:184.90px">6<span class="sl">/</span>11<span class="sl">/</span>2020</div>
<div class="sw" style="left:0px;top:238.1px;background:#80b78d"></div>
<div class="t leg" style="left:39.55px;top:231.10px">6<span class="sl">/</span>4<span class="sl">/</span>2020</div>
<div class="sw" style="left:160px;top:238.1px;background:#a5dfb1"></div>
<div class="t leg" style="left:199.55px;top:231.10px">5<span class="sl">/</span>28<span class="sl">/</span>2020</div>
<div class="sw" style="left:334px;top:238.1px;background:#b3ecc2"></div>
<div class="t leg" style="left:373.55px;top:231.10px">5<span class="sl">/</span>21<span class="sl">/</span>2020</div>
<div class="sw" style="left:508px;top:238.1px;background:#2a5e3b"></div>
<div class="t leg" style="left:547.55px;top:231.10px">5<span class="sl">/</span>14<span class="sl">/</span>2020</div>
<div class="sw" style="left:682px;top:238.1px;background:#4c835e"></div>
<div class="t leg" style="left:721.55px;top:231.10px">5<span class="sl">/</span>7<span class="sl">/</span>2020</div>
<div class="sw" style="left:842px;top:238.1px;background:#80b78d"></div>
<div class="t leg" style="left:881.55px;top:231.10px">4<span class="sl">/</span>30<span class="sl">/</span>2020</div>
<div class="sw" style="left:1016px;top:238.1px;background:#a5dfb1"></div>
<div class="t leg" style="left:1055.55px;top:231.10px">4<span class="sl">/</span>23<span class="sl">/</span>2020</div>
<div class="t yl" style="top:861.8px">0</div>
<div class="t yl" style="top:779.3px">5</div>
<div class="t yl" style="top:696.8px">10</div>
<div class="t yl" style="top:614.3px">15</div>
<div class="t yl" style="top:531.8px">20</div>
<div class="t yl" style="top:449.3px">25</div>
<div class="t yl" style="top:366.8px">30</div>
<div class="t yl" style="top:284.3px">35</div>
<div class="t xl" style="left:3.0px;top:895.1px">03<span class="sl">/</span>15<span class="sl">/</span>2020</div>
<div class="t xl" style="left:195.5px;top:895.1px">04<span class="sl">/</span>05<span class="sl">/</span>2020</div>
<div class="t xl" style="left:388.0px;top:895.1px">04<span class="sl">/</span>26<span class="sl">/</span>2020</div>
<div class="t xl" style="left:580.5px;top:895.1px">05<span class="sl">/</span>17<span class="sl">/</span>2020</div>
<div class="t xl" style="left:773.0px;top:895.1px">06<span class="sl">/</span>07<span class="sl">/</span>2020</div>
<div class="t xl" style="left:965.5px;top:895.1px">06<span class="sl">/</span>28<span class="sl">/</span>2020</div>
<div class="t xl" style="left:1158.0px;top:895.1px">07<span class="sl">/</span>19<span class="sl">/</span>2020</div>
<div class="t foot" id="foot" style="top:965.6px">Chart: Brian Angliss &bull; Source: Daedalnexus.net &bull; Created with Datawrapper</div>
</body></html>
